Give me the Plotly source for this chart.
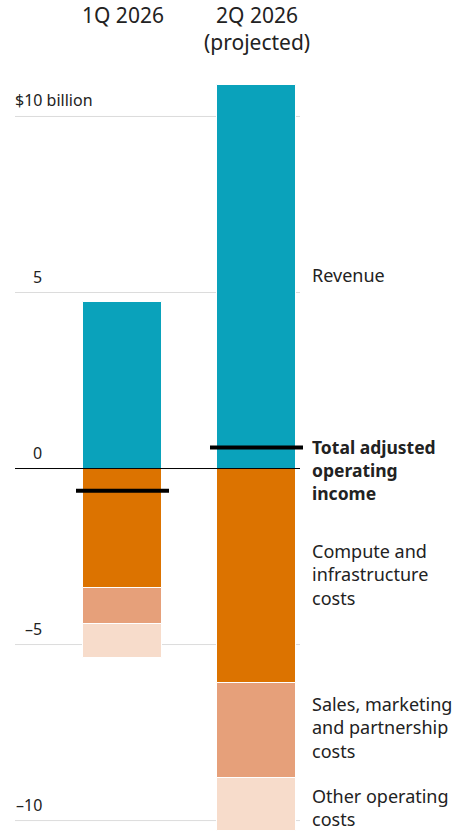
import plotly.graph_objects as go

# Quarterly figures, $ billions
quarters = ["1Q 2026", "2Q 2026<br>(projected)"]
revenue = [4.74, 10.9]
compute_costs = [-3.38, -6.08]
sales_costs = [-1.05, -2.70]
other_costs = [-0.94, -1.52]
income = [r + c + s + o for r, c, s, o in zip(revenue, compute_costs, sales_costs, other_costs)]

tick_vals = [10, 5, 0, -5, -10]
tick_text = ["$10 billion", "5", "0", "–5", "–10"]

series_labels = [
    ("Revenue", 5.5),
    ("Compute and<br>infrastructure<br>costs", -3.0),
    ("Sales, marketing<br>and partnership<br>costs", -7.36),
    ("Other operating<br>costs", -9.64),
]

TEAL = "#0aa2bb"
ORANGE = "#dc7300"
SALMON = "#e6a07a"
PEACH = "#f7dccb"
INK = "#222222"
FONT = "Noto Sans"

W, H = 455, 831
ML, MR, MT, MB = 15, 0, 60, 0
plot_w = W - ML - MR
grid_end_px = 285          # gridlines stop short of the labels
label_px = 295             # left edge of right-hand labels
unit_px = 134              # distance between bar centres
first_center_px = 107.5
bar_w = 0.59
line_half = 0.347

x = list(range(len(quarters)))

fig = go.Figure()
for vals, color in [(revenue, TEAL), (compute_costs, ORANGE), (sales_costs, SALMON), (other_costs, PEACH)]:
    fig.add_trace(go.Bar(
        x=x, y=vals, width=bar_w, marker=dict(color=color, line=dict(color="white", width=1)),
        hoverinfo="skip", showlegend=False,
    ))

# Adjusted operating income markers
for xi, v in zip(x, income):
    fig.add_trace(go.Scatter(
        x=[xi - line_half, xi + line_half], y=[v, v], mode="lines",
        line=dict(color="black", width=4), hoverinfo="skip", showlegend=False,
    ))

shapes = []
for tv in tick_vals:
    shapes.append(dict(
        type="line", xref="paper", yref="y", x0=0, x1=grid_end_px / plot_w, y0=tv, y1=tv,
        line=dict(color="black" if tv == 0 else "#dcdcdc", width=1),
        layer="above" if tv == 0 else "below",
    ))

annotations = []
for tv, tt in zip(tick_vals, tick_text):
    if tt.startswith("$"):
        annotations.append(dict(xref="paper", yref="y", x=0, y=tv, text=tt, showarrow=False,
                                xanchor="left", yanchor="middle", xshift=-2, yshift=16,
                                font=dict(family=FONT, size=16, color=INK)))
    else:
        annotations.append(dict(xref="paper", yref="y", x=0, y=tv, text=tt, showarrow=False,
                                xanchor="right", yanchor="middle", xshift=29, yshift=16,
                                font=dict(family=FONT, size=16, color=INK)))

# Column headers
for xi, q in zip(x, quarters):
    annotations.append(dict(xref="x", yref="paper", x=xi, y=1, text=q, showarrow=False,
                            xanchor="center", yanchor="top", yshift=61,
                            font=dict(family=FONT, size=21, color=INK)))

# Series labels to the right of the projected column
for text, yv in series_labels:
    annotations.append(dict(xref="paper", yref="y", x=label_px / plot_w, y=yv, text=text,
                            showarrow=False, xanchor="left", yanchor="middle", align="left",
                            font=dict(family=FONT, size=18, color=INK)))
annotations.append(dict(xref="paper", yref="y", x=label_px / plot_w, y=income[1],
                        text="<b>Total adjusted<br>operating<br>income</b>",
                        showarrow=False, xanchor="left", yanchor="top", align="left", yshift=14,
                        font=dict(family=FONT, size=17.5, color=INK)))

x_left = -first_center_px / unit_px
x_right = (plot_w - first_center_px) / unit_px

fig.update_layout(
    width=W, height=H, margin=dict(l=ML, r=MR, t=MT, b=MB),
    barmode="relative", bargap=0,
    plot_bgcolor="white", paper_bgcolor="white",
    xaxis=dict(range=[x_left, x_right], visible=False, fixedrange=True),
    yaxis=dict(range=[-10.296, 11.604], visible=False, fixedrange=True),
    shapes=shapes, annotations=annotations,
    font=dict(family=FONT),
)

fig.write_html("out.html")
